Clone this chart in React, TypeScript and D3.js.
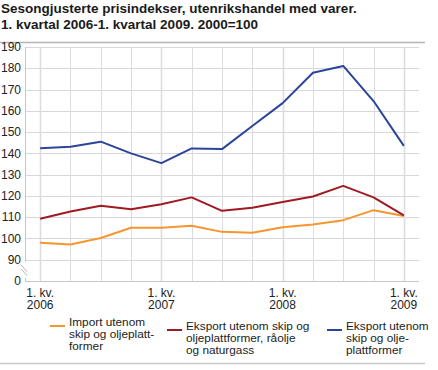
import * as d3 from "d3";
import { useEffect, useRef } from "react";

const W = 438;
const H = 370;
const margin = { top: 47, left: 25, right: 19, bottom: 89 };

const quarters = [
  "2006K1", "2006K2", "2006K3", "2006K4",
  "2007K1", "2007K2", "2007K3", "2007K4",
  "2008K1", "2008K2", "2008K3", "2008K4",
  "2009K1",
];
const importValues = [98.0, 97.2, 100.2, 105.0, 105.0, 106.0, 103.1, 102.7, 105.3, 106.6, 108.6, 113.3, 110.6];
const eksportUtenOlje = [109.3, 112.7, 115.4, 113.7, 116.1, 119.3, 113.0, 114.4, 117.1, 119.7, 124.7, 119.3, 110.8];
const eksportTotal = [142.4, 143.1, 145.5, 140.0, 135.4, 142.3, 142.0, 152.9, 163.6, 177.9, 181.1, 164.6, 143.5];
const yTicks = [0, 90, 100, 110, 120, 130, 140, 150, 160, 170, 180, 190];
const xLabelYears = ["2006", "2007", "2008", "2009"];

const series = [
  { name: ["Import utenom", "skip og oljeplatt-", "former"], values: importValues, color: "#f7962e" },
  { name: ["Eksport utenom skip og", "oljeplattformer, råolje", "og naturgass"], values: eksportUtenOlje, color: "#a11a22" },
  { name: ["Eksport utenom", "skip og olje-", "plattformer"], values: eksportTotal, color: "#2b4599" },
];

const FONT = "'Liberation Sans', Arial, sans-serif";

const App = () => {
  const svgRef = useRef(null);

  useEffect(() => {
    const svg = d3.select(svgRef.current);
    svg.selectAll("*").remove();
    const pw = W - margin.left - margin.right;
    const ph = H - margin.top - margin.bottom;

    // broken axis: 0 sits one step below 90
    const step = ph / (yTicks.length - 1);
    const yScale = d3.scaleLinear().domain([90, 190]).range([ph - step, 0]);
    const y = (v) => (v < 90 ? ph : yScale(v));
    const x = d3.scalePoint().domain(quarters).range([0, pw]).padding(0.5);

    // title
    const title = svg.append("g").attr("font-family", FONT).attr("font-weight", "bold").attr("font-size", 13.5).attr("fill", "#1a1a1a");
    title.append("text").attr("x", 1).attr("y", 13).text("Sesongjusterte prisindekser, utenrikshandel med varer.");
    title.append("text").attr("x", 1).attr("y", 29).text("1. kvartal 2006-1. kvartal 2009. 2000=100");
    svg.append("line").attr("x1", 0).attr("x2", 425).attr("y1", 42.5).attr("y2", 42.5).attr("stroke", "#b5b5b5").attr("stroke-width", 1.5);
    svg.append("line").attr("x1", 0).attr("x2", 425).attr("y1", 363.5).attr("y2", 363.5).attr("stroke", "#c8c8c8").attr("stroke-width", 1.5);

    const g = svg.append("g").attr("transform", `translate(${margin.left},${margin.top})`);

    // grid
    g.selectAll(".hgrid").data(yTicks.slice(1)).join("line")
      .attr("x1", 0).attr("x2", pw)
      .attr("y1", (d) => Math.round(y(d)) + 0.5).attr("y2", (d) => Math.round(y(d)) + 0.5)
      .attr("stroke", "#d7d7dc").attr("stroke-width", 1);
    g.selectAll(".vgrid").data(quarters).join("line")
      .attr("x1", (d) => Math.round(x(d)) + 0.5).attr("x2", (d) => Math.round(x(d)) + 0.5)
      .attr("y1", 0).attr("y2", ph)
      .attr("stroke", "#dcdce2").attr("stroke-width", (d, i) => (i % 4 === 0 ? 1.6 : 1));

    // axes
    g.append("line").attr("x1", 0).attr("x2", pw).attr("y1", ph + 0.5).attr("y2", ph + 0.5).attr("stroke", "#c8c8cc");
    g.append("line").attr("x1", 0.5).attr("x2", 0.5).attr("y1", 0).attr("y2", y(90) + 2).attr("stroke", "#c8c8cc");
    g.append("line").attr("x1", 0.5).attr("x2", 0.5).attr("y1", ph - 3).attr("y2", ph).attr("stroke", "#c8c8cc");
    // break marks
    const bm = g.append("g").attr("stroke", "#b8b8b8").attr("stroke-width", 1);
    bm.append("line").attr("x1", -4).attr("y1", y(90) + 5).attr("x2", 2).attr("y2", y(90) + 12);
    bm.append("line").attr("x1", -4).attr("y1", y(90) + 9).attr("x2", 2).attr("y2", y(90) + 16);

    const yl = g.append("g").attr("font-family", FONT).attr("font-size", 12).attr("fill", "#222").attr("text-anchor", "end");
    yl.selectAll("text").data(yTicks).join("text")
      .attr("x", -4).attr("y", (d) => y(d)).attr("dy", "0.35em").text((d) => d);

    const xl = g.append("g").attr("font-family", FONT).attr("font-size", 12).attr("fill", "#222").attr("text-anchor", "middle");
    const labelQ = quarters.filter((q, i) => i % 4 === 0);
    labelQ.forEach((q, i) => {
      xl.append("text").attr("x", x(q)).attr("y", ph + 16).text("1. kv.");
      xl.append("text").attr("x", x(q)).attr("y", ph + 28).text(xLabelYears[i]);
    });

    // lines
    const line = d3.line().x((d, i) => x(quarters[i])).y((d) => y(d));
    series.forEach((s) => {
      g.append("path").datum(s.values).attr("d", line)
        .attr("fill", "none").attr("stroke", s.color).attr("stroke-width", 2).attr("stroke-linejoin", "round");
    });

    // legend
    const legendX = [50, 167, 327];
    const legendTop = [322, 326, 326];
    series.forEach((s, i) => {
      const lg = svg.append("g").attr("transform", `translate(${legendX[i]},${legendTop[i]})`);
      lg.append("line").attr("x1", 0).attr("x2", 15).attr("y1", 4).attr("y2", 4).attr("stroke", s.color).attr("stroke-width", 2);
      lg.selectAll("text").data(s.name).join("text")
        .attr("x", 19).attr("y", (d, j) => j * 12).attr("dy", "0.35em")
        .attr("font-family", FONT).attr("font-size", 11.8).attr("fill", "#222")
        .text((d) => d);
    });
  }, []);

  return <svg ref={svgRef} width={W} height={H} style={{ position: "absolute", left: 0, top: 0 }} />;
};

export default App;
